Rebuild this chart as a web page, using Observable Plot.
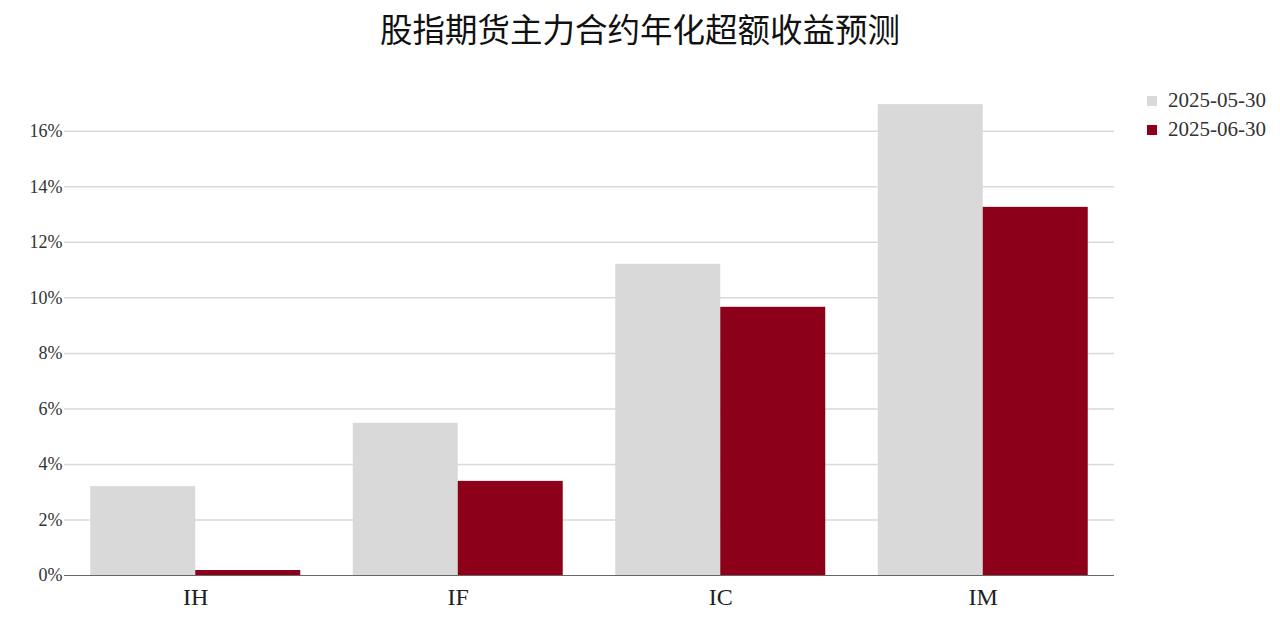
<!DOCTYPE html>
<html>
<head>
<meta charset="utf-8">
<script src="https://cdn.jsdelivr.net/npm/d3@7"></script>
<script src="https://cdn.jsdelivr.net/npm/@observablehq/plot@0.6"></script>
<style>
  html, body { margin: 0; padding: 0; background: #fff; }
  #wrap { position: relative; width: 1280px; height: 638px; font-family: "Liberation Serif", "Noto Sans CJK SC", serif; }
  #title { position: absolute; left: 0; top: 7px; width: 1280px; text-align: center; font-size: 32.5px; color: #111; font-family: "Noto Sans CJK SC", sans-serif; line-height: 42px; }
  #chart { position: absolute; left: 0; top: 60px; }
  #legend { position: absolute; left: 1147px; top: 86px; font-size: 21px; color: #333; }
  .row { display: flex; align-items: center; height: 29px; }
  .sw { width: 10px; height: 10px; margin-right: 11px; }
</style>
</head>
<body>
<div id="wrap">
  <div id="title"></div>
  <div id="chart"></div>
  <div id="legend"></div>
</div>
<script>
const titleText = "股指期货主力合约年化超额收益预测";
const categories = ["IH", "IF", "IC", "IM"];
const seriesNames = ["2025-05-30", "2025-06-30"];
const values0530 = [0.032, 0.0548, 0.1121, 0.1696];
const values0630 = [0.0018, 0.0339, 0.0966, 0.1326];
const colors = ["#d9d9d9", "#8c001a"];
const yTicks = [0, 0.02, 0.04, 0.06, 0.08, 0.10, 0.12, 0.14, 0.16];

document.getElementById("title").textContent = titleText;

const d1 = categories.map((c, i) => ({cat: c, v: values0530[i]}));
const d2 = categories.map((c, i) => ({cat: c, v: values0630[i]}));

const plot = Plot.plot({
  width: 1280,
  height: 578,
  marginLeft: 64,
  marginRight: 166,
  marginTop: 43,
  marginBottom: 63,
  style: {fontFamily: "'Liberation Serif', serif", background: "#fff", color: "#333"},
  x: {domain: categories, paddingInner: 0.2, paddingOuter: 0.1, round: false, label: null},
  y: {domain: [0, 0.17], label: null},
  marks: [
    Plot.ruleY(yTicks.filter(t => t > 0), {stroke: "#d9d9d9", strokeWidth: 1.5}),
    Plot.barY(d1, {x: "cat", y: "v", fill: colors[0], insetRight: 105, insetLeft: 0}),
    Plot.barY(d2, {x: "cat", y: "v", fill: colors[1], insetLeft: 105, insetRight: 0}),
    Plot.ruleY([0], {stroke: "#666", strokeWidth: 1}),
    Plot.axisY({ticks: yTicks, tickFormat: d3.format(".0%"), tickSize: 0, tickPadding: 2, fontSize: 18, label: null, fill: "#333"}),
    Plot.axisX({tickSize: 0, tickPadding: 12, fontSize: 24, label: null, fill: "#222"})
  ]
});
document.getElementById("chart").appendChild(plot);

const legend = document.getElementById("legend");
seriesNames.forEach((s, i) => {
  const row = document.createElement("div");
  row.className = "row";
  const sw = document.createElement("div");
  sw.className = "sw";
  sw.style.background = colors[i];
  const t = document.createElement("span");
  t.textContent = s;
  row.appendChild(sw);
  row.appendChild(t);
  legend.appendChild(row);
});
</script>
</body>
</html>
